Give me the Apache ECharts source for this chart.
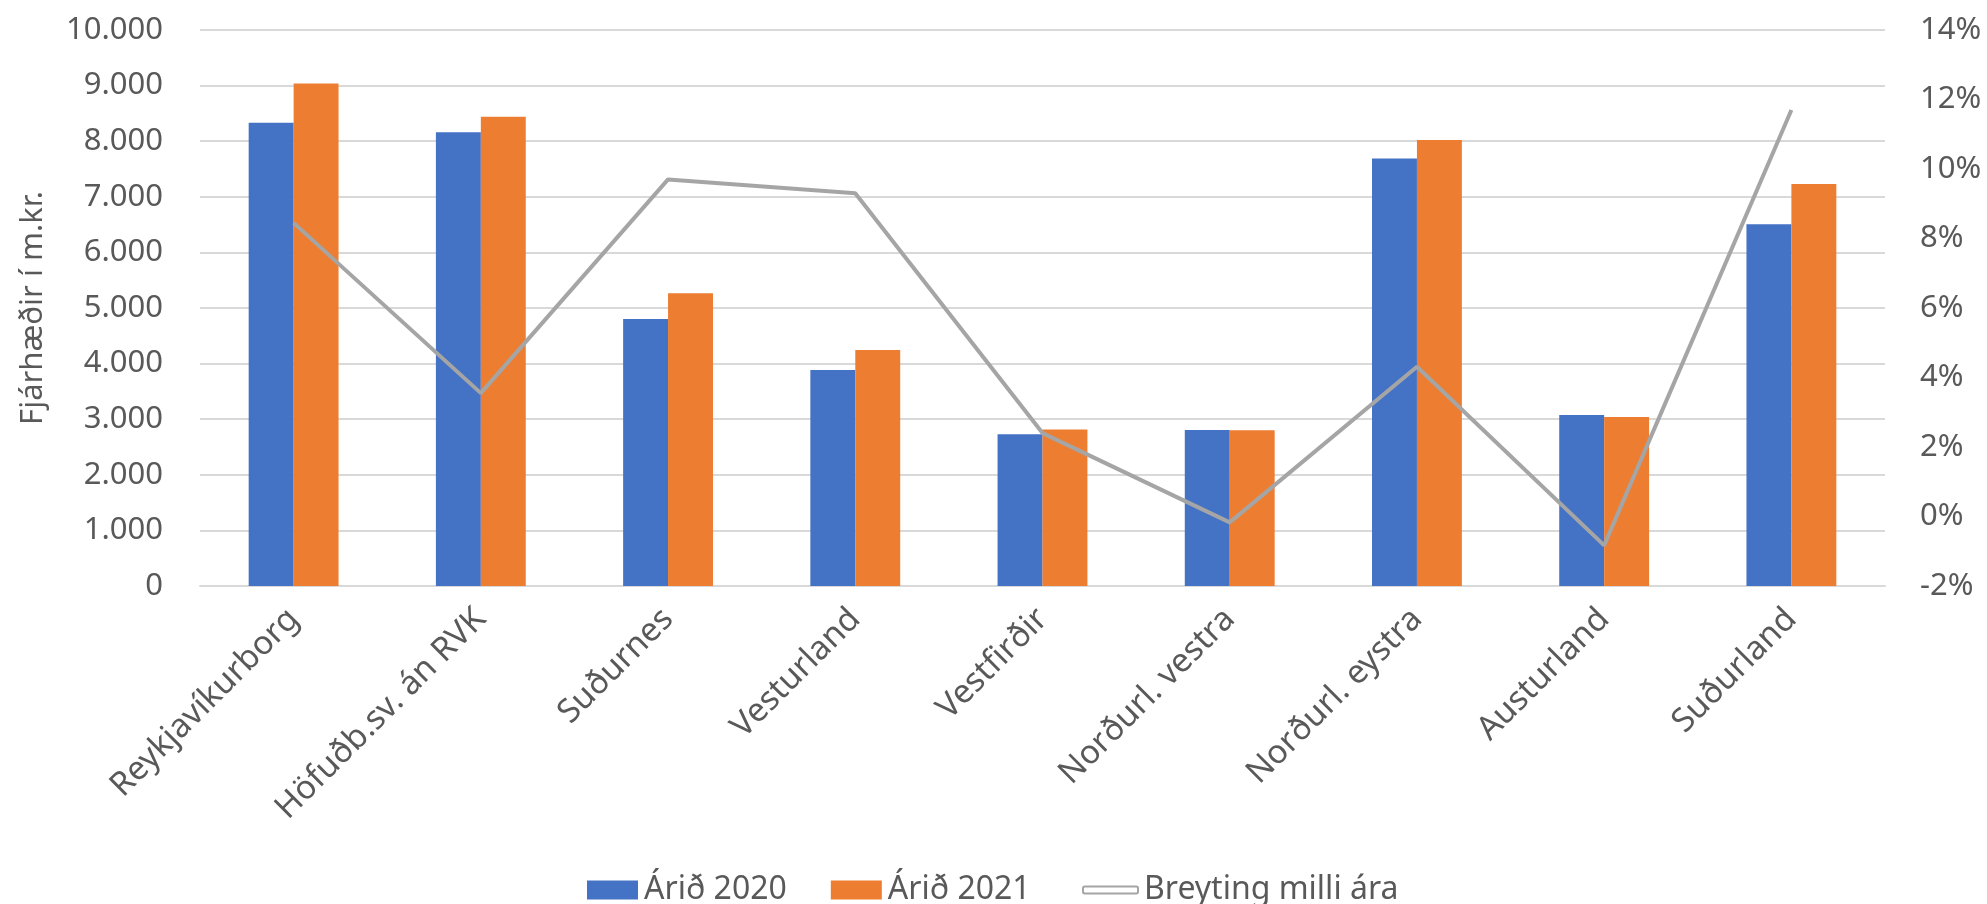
<!DOCTYPE html>
<html>
<head>
<meta charset="utf-8">
<script src="https://cdn.jsdelivr.net/npm/echarts@6/dist/echarts.min.js"></script>
<style>
html,body{margin:0;padding:0;background:#fff;}
#chart{width:1987px;height:904px;}
</style>
</head>
<body>
<div id="chart"></div>
<script>
const categories = ['Reykjavíkurborg','Höfuðb.sv. án RVK','Suðurnes','Vesturland','Vestfirðir','Norðurl. vestra','Norðurl. eystra','Austurland','Suðurland'];
const values2020 = [8330, 8160, 4800, 3885, 2730, 2805, 7690, 3075, 6505];
const values2021 = [9040, 8440, 5265, 4245, 2815, 2800, 8020, 3040, 7230];
const changePct = [8.45, 3.55, 9.7, 9.3, 2.4, -0.17, 4.31, -0.83, 11.7];
const seriesNames = ['Árið 2020', 'Árið 2021', 'Breyting milli ára'];
const yAxisTitle = 'Fjárhæðir í m.kr.';

const FONT = '"Noto Sans", "Open Sans", sans-serif';
const TXT = '#595959';

const chart = echarts.init(document.getElementById('chart'), null, {renderer:'canvas'});
chart.setOption({
  animation: false,
  backgroundColor: '#ffffff',
  textStyle: {fontFamily: FONT},
  grid: {left: 200, right: 102, top: 30, bottom: 318, containLabel: false},
  legend: [
    {
      data: [seriesNames[0], seriesNames[1]],
      left: 582, top: 869,
      itemWidth: 51, itemHeight: 19, itemGap: 44,
      icon: 'rect',
      textStyle: {fontFamily: FONT, fontSize: 32, color: TXT, padding: [0,0,0,1]}
    },
    {
      data: [{name: seriesNames[2], icon: 'roundRect', itemStyle: {color: '#ffffff', borderColor: '#a5a5a5', borderWidth: 2}}],
      left: 1077, top: 869,
      itemWidth: 55, itemHeight: 7,
      textStyle: {fontFamily: FONT, fontSize: 32, color: TXT, padding: [0,0,0,1]}
    }
  ],
  xAxis: {
    type: 'category',
    data: categories,
    axisLine: {lineStyle: {color: '#d9d9d9', width: 2}},
    axisTick: {show: false},
    axisLabel: {rotate: 45, interval: 0, margin: 28, fontSize: 33, color: TXT, fontFamily: FONT}
  },
  yAxis: [
    {
      type: 'value', min: 0, max: 10000, interval: 1000,
      name: yAxisTitle, nameLocation: 'middle', nameGap: 151, nameRotate: 90,
      nameTextStyle: {fontSize: 31, color: TXT, fontFamily: FONT},
      axisLine: {show: false}, axisTick: {show: false},
      axisLabel: {fontSize: 31, color: TXT, margin: 37, fontFamily: FONT,
        formatter: v => String(v).replace(/\B(?=(\d{3})+(?!\d))/g, '.')},
      splitLine: {lineStyle: {color: '#d9d9d9', width: 2}}
    },
    {
      type: 'value', min: -2, max: 14, interval: 2,
      axisLine: {show: false}, axisTick: {show: false},
      axisLabel: {fontSize: 31, color: TXT, margin: 35, fontFamily: FONT, formatter: v => v + '%'},
      splitLine: {show: false}
    }
  ],
  series: [
    {name: seriesNames[0], type: 'bar', data: values2020, itemStyle: {color: '#4472c4'}, barGap: '0%', barCategoryGap: '52%'},
    {name: seriesNames[1], type: 'bar', data: values2021, itemStyle: {color: '#ed7d31'}, barGap: '0%', barCategoryGap: '52%'},
    {name: seriesNames[2], type: 'line', yAxisIndex: 1, data: changePct, showSymbol: false, symbol: 'none',
      lineStyle: {color: '#a5a5a5', width: 4}, itemStyle: {color: '#a5a5a5'}, z: 5}
  ]
});
</script>
</body>
</html>
